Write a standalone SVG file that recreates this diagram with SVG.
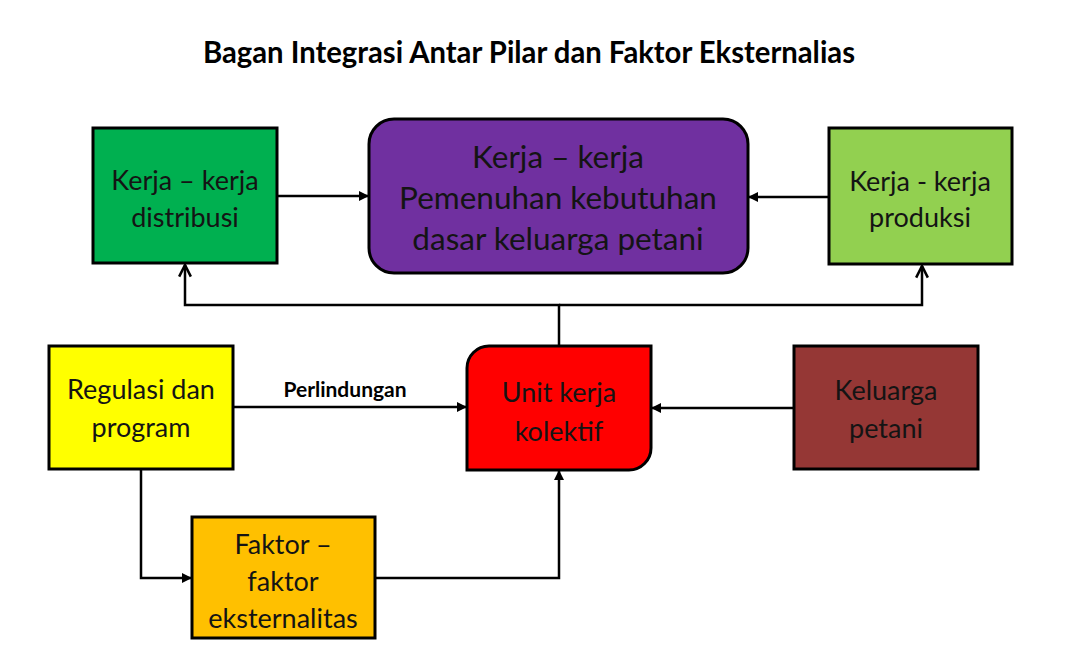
<svg xmlns="http://www.w3.org/2000/svg" width="1067" height="671" viewBox="0 0 1067 671">
<defs>
<style>
.box{stroke:#000;stroke-width:3}
.t{font-family:Lato,"Open Sans","Liberation Sans",sans-serif;font-size:27px;fill:#141414;text-anchor:middle}
.tb{font-size:31.5px}
.c{fill:none;stroke:#000;stroke-width:2.5}
.title{font-family:Lato,"Open Sans","Liberation Sans",sans-serif;font-size:31px;font-weight:bold;fill:#000;text-anchor:middle}
.lbl{font-family:Lato,"Open Sans","Liberation Sans",sans-serif;font-size:21px;font-weight:bold;fill:#000;text-anchor:middle}
</style>
<marker id="fa" viewBox="0 0 10 10" refX="9" refY="5" markerWidth="10" markerHeight="10" markerUnits="userSpaceOnUse" orient="auto">
<path d="M0,0 L10,5 L0,10 Z" fill="#000"/>
</marker>
<marker id="oa" viewBox="0 0 12 12" refX="11" refY="6" markerWidth="14" markerHeight="14" markerUnits="userSpaceOnUse" orient="auto">
<path d="M1,1 L11,6 L1,11" fill="none" stroke="#000" stroke-width="2.2"/>
</marker>
</defs>
<rect width="1067" height="671" fill="#fff"/>
<text class="title" x="529" y="63" textLength="652" lengthAdjust="spacingAndGlyphs">Bagan Integrasi Antar Pilar dan Faktor Eksternalias</text>

<g id="connectors">
<line class="c" x1="278" y1="196" x2="368" y2="196" marker-end="url(#fa)"/>
<line class="c" x1="828" y1="197" x2="749" y2="197" marker-end="url(#fa)"/>
<polyline class="c" points="559,345 559,305 185,305 185,265" marker-end="url(#oa)"/>
<polyline class="c" points="559,305 922,305 922,266" marker-end="url(#oa)"/>
<line class="c" x1="234" y1="407" x2="466" y2="407" marker-end="url(#fa)"/>
<line class="c" x1="793" y1="408" x2="652" y2="408" marker-end="url(#fa)"/>
<polyline class="c" points="141,470 141,578 191,578" marker-end="url(#fa)"/>
<polyline class="c" points="376,578 559,578 559,471" marker-end="url(#fa)"/>
<text class="lbl" x="345" y="397">Perlindungan</text>
</g>

<g id="distribusi">
<rect class="box" x="93" y="128" width="184" height="135" fill="#00B050"/>
<text class="t" x="185" y="190">Kerja – kerja</text>
<text class="t" x="185" y="227">distribusi</text>
</g>

<g id="pemenuhan">
<rect class="box" x="369" y="119" width="379" height="154" rx="25" ry="25" fill="#7030A0"/>
<text class="t tb" x="558" y="168">Kerja – kerja</text>
<text class="t tb" x="558" y="209">Pemenuhan kebutuhan</text>
<text class="t tb" x="558" y="250">dasar keluarga petani</text>
</g>

<g id="produksi">
<rect class="box" x="829" y="128" width="183" height="136" fill="#92D050"/>
<text class="t" x="920" y="191">Kerja - kerja</text>
<text class="t" x="920" y="227">produksi</text>
</g>

<g id="regulasi">
<rect class="box" x="49" y="346" width="184" height="123" fill="#FFFF00"/>
<text class="t" x="141" y="399">Regulasi dan</text>
<text class="t" x="141" y="437">program</text>
</g>

<g id="unit">
<path class="box" d="M489,346 H651 V448 A22,22 0 0 1 629,470 H467 V368 A22,22 0 0 1 489,346 Z" fill="#FF0000"/>
<text class="t" x="559" y="402">Unit kerja</text>
<text class="t" x="559" y="441">kolektif</text>
</g>

<g id="keluarga">
<rect class="box" x="794" y="346" width="184" height="123" fill="#953735"/>
<text class="t" x="886" y="400">Keluarga</text>
<text class="t" x="886" y="438">petani</text>
</g>

<g id="faktor">
<rect class="box" x="192" y="517" width="183" height="121" fill="#FFC000"/>
<text class="t" x="283" y="554">Faktor –</text>
<text class="t" x="283" y="591">faktor</text>
<text class="t" x="283" y="628">eksternalitas</text>
</g>
</svg>
